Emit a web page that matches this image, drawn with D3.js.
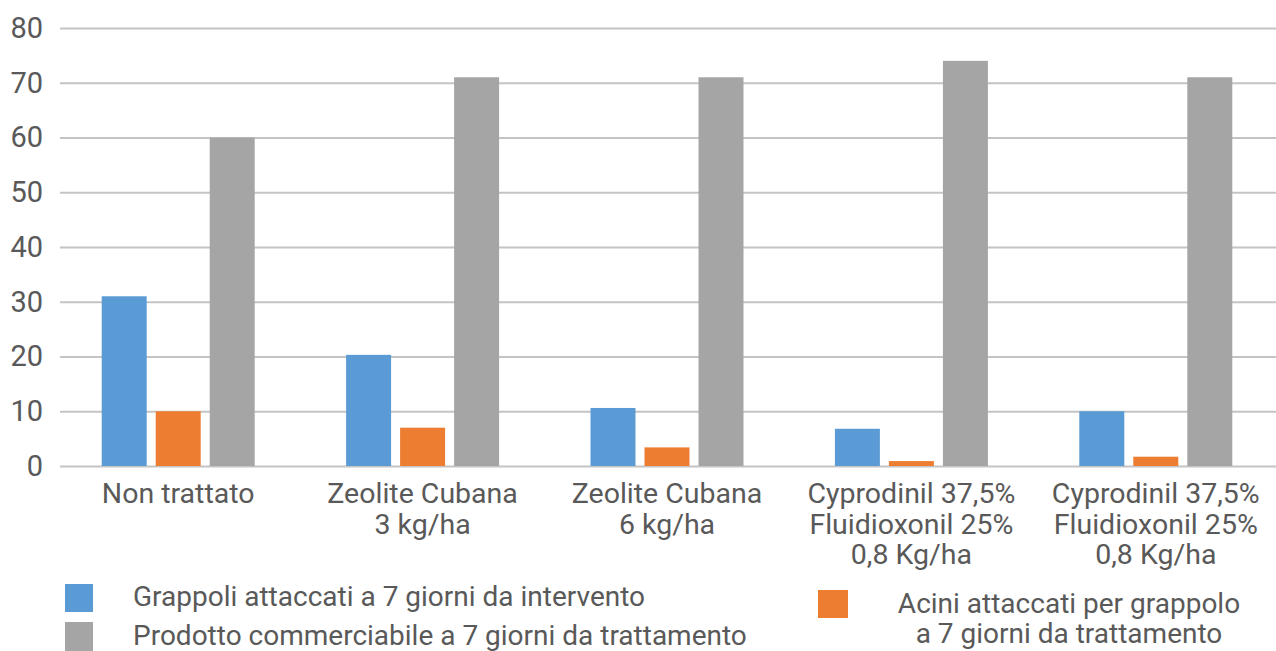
<!DOCTYPE html>
<html>
<head>
<meta charset="utf-8">
<script src="https://cdn.jsdelivr.net/npm/d3@7"></script>
<style>
  body { margin: 0; background: #fff; }
  svg text { font-family: Roboto, "Noto Sans", sans-serif; fill: #595959; }
</style>
</head>
<body>
<svg id="chart" width="1276" height="651"></svg>
<script>
// categories (one label per line)
const categories = [
    ["Non trattato"],
    ["Zeolite Cubana", "3 kg/ha"],
    ["Zeolite Cubana", "6 kg/ha"],
    ["Cyprodinil 37,5%", "Fluidioxonil 25%", "0,8 Kg/ha"],
    ["Cyprodinil 37,5%", "Fluidioxonil 25%", "0,8 Kg/ha"]
];
const grappoli = [31, 20.3, 10.6, 6.8, 10];
const acini = [10, 7, 3.4, 0.9, 1.7];
const prodotto = [60, 71, 71, 74, 71];
const yTicks = [0, 10, 20, 30, 40, 50, 60, 70, 80];

const seriesNames = ["grappoli", "acini", "prodotto"];
const seriesColors = ["#5b9bd5", "#ed7d31", "#a5a5a5"];
const legendBlue = ["Grappoli attaccati a 7 giorni da intervento"];
const legendGrey = ["Prodotto commerciabile a 7 giorni da trattamento"];
const legendOrange = ["Acini attaccati per grappolo", "a 7 giorni da trattamento"];

const svg = d3.select("#chart");

const marginLeft = 56, plotRight = 1278;
const y = d3.scaleLinear().domain([0, 80]).range([466, 28]);

const keys = categories.map((c, i) => i);
const x0 = d3.scaleBand()
    .domain(keys)
    .range([marginLeft, plotRight])
    .paddingInner(0.374)
    .paddingOuter(0.187);

const x1 = d3.scaleBand()
    .domain(seriesNames)
    .range([0, x0.bandwidth()])
    .paddingInner(0.167);

const color = d3.scaleOrdinal(seriesNames, seriesColors);

const rows = keys.map(i => ({ i, grappoli: grappoli[i], acini: acini[i], prodotto: prodotto[i] }));

// gridlines + y labels
svg.append("g")
    .attr("transform", "translate(60,0)")
    .call(d3.axisLeft(y).tickValues(yTicks).tickSize(-(1276 - 60)).tickPadding(17))
    .call(g => g.select(".domain").remove())
    .call(g => g.selectAll(".tick line").attr("stroke", "#c4c4c4").attr("stroke-width", 2))
    .call(g => g.selectAll(".tick text")
        .attr("fill", "#595959")
        .style("font-size", "29px")
        .style("font-family", "Roboto, sans-serif"));

// bars
svg.append("g")
  .selectAll("g")
  .data(rows)
  .join("g")
    .attr("transform", d => `translate(${x0(d.i)},0)`)
  .selectAll("rect")
  .data(d => seriesNames.map(k => ({ key: k, value: d[k] })))
  .join("rect")
    .attr("x", d => x1(d.key))
    .attr("y", d => y(d.value))
    .attr("width", x1.bandwidth())
    .attr("height", d => y(0) - y(d.value))
    .attr("fill", d => color(d.key));

// category labels
const lab = svg.append("g")
  .selectAll("text")
  .data(categories)
  .join("text")
    .attr("text-anchor", "middle")
    .attr("y", 503)
    .style("font-size", "28.5px");

lab.selectAll("tspan")
  .data((d, i) => d.map(t => ({ t, i })))
  .join("tspan")
    .attr("x", d => x0(d.i) + x0.bandwidth() / 2)
    .attr("dy", (d, j) => j === 0 ? 0 : 30.5)
    .text(d => d.t);

// legend
const legend = svg.append("g");
legend.append("rect").attr("x", 65).attr("y", 584).attr("width", 28).attr("height", 28).attr("fill", seriesColors[0]);
legend.append("rect").attr("x", 65).attr("y", 622).attr("width", 28).attr("height", 29).attr("fill", seriesColors[2]);
legend.append("rect").attr("x", 818).attr("y", 590).attr("width", 30).attr("height", 28).attr("fill", seriesColors[1]);

legend.append("text").attr("x", 133).attr("y", 606).style("font-size", "28px").text(legendBlue[0]);
legend.append("text").attr("x", 133).attr("y", 645).style("font-size", "28px").text(legendGrey[0]);
legend.append("text")
    .attr("text-anchor", "middle")
    .attr("y", 613)
    .style("font-size", "28px")
  .selectAll("tspan")
  .data(legendOrange)
  .join("tspan")
    .attr("x", 1069)
    .attr("dy", (d, j) => j === 0 ? 0 : 30)
    .text(d => d);
</script>
</body>
</html>
